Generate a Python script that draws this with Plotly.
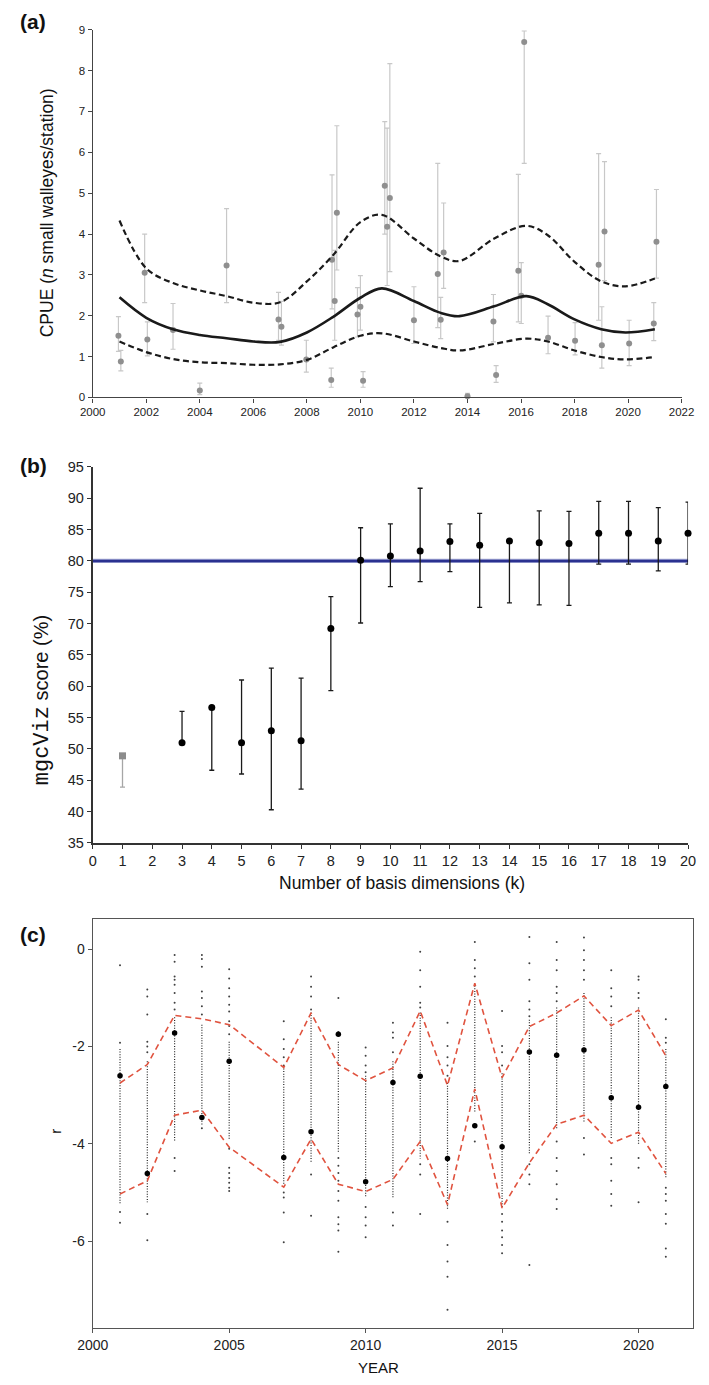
import plotly.graph_objects as go

W, H = 709, 1385
FONT = "Liberation Sans, Arial, sans-serif"

# ---------------- Panel (a): CPUE by year ----------------
a_year = [2000.96, 2001.05, 2001.94, 2002.04, 2003.0, 2004.0, 2005.0, 2006.94, 2007.05, 2007.98,
          2008.91, 2008.94, 2009.04, 2009.12, 2009.89, 2010.0, 2010.1, 2010.91, 2011.0, 2011.1,
          2012.0, 2012.89, 2013.0, 2013.11, 2014.0, 2014.97, 2015.07, 2015.9, 2016.01, 2016.12,
          2017.01, 2018.02, 2018.9, 2019.02, 2019.12, 2020.04, 2020.96, 2021.06]
a_cpue = [1.51, 0.88, 3.05, 1.42, 1.65, 0.17, 3.23, 1.91, 1.73, 0.93,
          0.43, 3.37, 2.36, 4.52, 2.03, 2.22, 0.41, 5.18, 4.18, 4.88,
          1.89, 3.02, 1.90, 3.55, 0.03, 1.86, 0.55, 3.10, 2.49, 8.70,
          1.46, 1.39, 3.25, 1.28, 4.06, 1.32, 1.81, 3.81]
a_hi = [1.98, 1.15, 4.00, 1.85, 2.30, 0.35, 4.62, 2.57, 2.35, 1.40,
        0.72, 5.45, 3.60, 6.65, 2.69, 2.98, 0.63, 6.75, 6.59, 8.17,
        2.71, 5.73, 2.45, 4.76, 0.10, 2.52, 0.78, 5.46, 3.30, 8.97,
        1.99, 1.83, 5.97, 2.22, 5.77, 1.89, 2.32, 5.09]
a_lo = [1.13, 0.65, 2.32, 1.02, 1.18, 0.07, 2.32, 1.40, 1.28, 0.62,
        0.25, 2.17, 1.40, 3.12, 1.48, 1.65, 0.25, 4.00, 2.74, 3.08,
        1.32, 1.71, 1.44, 2.67, 0.00, 1.36, 0.37, 1.85, 1.81, 5.73,
        1.07, 1.04, 1.89, 0.72, 2.86, 0.78, 1.39, 2.92]

fit_year = [2001, 2002, 2003, 2004, 2005, 2006, 2007, 2008, 2009, 2010, 2010.8,
            2012, 2013, 2013.7, 2015, 2016.2, 2017, 2018, 2019, 2019.9, 2021]
fit_mid = [2.45, 1.95, 1.67, 1.53, 1.45, 1.37, 1.36, 1.59, 1.98, 2.44, 2.67,
           2.36, 2.07, 1.99, 2.23, 2.48, 2.28, 1.91, 1.67, 1.59, 1.67]
fit_up = [4.33, 3.16, 2.80, 2.62, 2.48, 2.32, 2.33, 2.84, 3.50, 4.29, 4.47,
          3.89, 3.45, 3.34, 3.89, 4.20, 3.97, 3.32, 2.84, 2.72, 2.91]
fit_low = [1.37, 1.11, 0.94, 0.86, 0.84, 0.80, 0.81, 0.92, 1.23, 1.51, 1.57,
           1.37, 1.21, 1.15, 1.31, 1.44, 1.37, 1.15, 0.99, 0.93, 0.99]

# ---------------- Panel (b): mgcViz score vs k ----------------
b_k = [1, 3, 4, 5, 6, 7, 8, 9, 10, 11, 12, 13, 14, 15, 16, 17, 18, 19, 20]
b_score = [48.9, 51.0, 56.6, 51.0, 52.9, 51.3, 69.2, 80.1, 80.8, 81.6,
           83.1, 82.5, 83.2, 82.9, 82.8, 84.4, 84.4, 83.2, 84.4]
b_hi = [48.9, 56.0, 56.6, 61.0, 62.9, 61.3, 74.3, 85.3, 85.9, 91.6,
        85.9, 87.6, 83.2, 88.0, 87.9, 89.5, 89.5, 88.5, 89.4]
b_lo = [43.9, 51.0, 46.6, 46.0, 40.3, 43.6, 59.3, 70.1, 75.9, 76.7,
        78.3, 72.6, 73.3, 73.0, 72.9, 79.5, 79.5, 78.4, 79.5]
b_threshold = 80

# ---------------- Panel (c): r by year ----------------
c_year = [2001, 2002, 2003, 2004, 2005, 2007, 2008, 2009, 2010, 2011,
          2012, 2013, 2014, 2015, 2016, 2017, 2018, 2019, 2020, 2021]
c_mean = [-2.60, -4.61, -1.72, -3.46, -2.30, -4.28, -3.75, -1.75, -4.78, -2.74,
          -2.61, -4.30, -3.63, -4.06, -2.11, -2.18, -2.07, -3.05, -3.25, -2.82]
c_upper = [-2.75, -2.37, -1.36, -1.43, -1.55, -2.43, -1.31, -2.37, -2.70, -2.44,
           -1.27, -2.80, -0.70, -2.64, -1.59, -1.31, -0.96, -1.57, -1.25, -2.19]
c_lower = [-5.03, -4.76, -3.41, -3.31, -4.07, -4.89, -3.90, -4.83, -4.98, -4.73,
           -3.95, -5.25, -2.87, -5.32, -4.39, -3.60, -3.41, -3.99, -3.76, -4.61]
c_dense_top = [-2.05, -2.30, -1.40, -1.55, -1.90, -2.45, -1.30, -1.90, -2.60, -2.30,
               -1.30, -2.75, -0.75, -2.55, -1.45, -1.20, -0.90, -1.40, -1.20, -2.05]
c_dense_bottom = [-5.25, -5.20, -3.95, -3.60, -3.90, -4.85, -4.40, -4.20, -5.10, -5.10,
                  -4.30, -5.35, -3.35, -5.30, -4.20, -3.70, -3.55, -3.90, -4.00, -4.70]
c_sparse = [
    [-0.33, -1.92, -5.40, -5.62],
    [-0.83, -0.97, -1.34, -1.90, -2.00, -2.12, -5.44, -5.98],
    [-0.12, -0.26, -0.56, -0.63, -0.73, -0.90, -1.10, -1.24, -4.29, -4.56],
    [-0.12, -0.20, -0.36, -0.87, -1.00, -1.17, -1.34, -3.68],
    [-0.41, -0.60, -0.80, -0.97, -1.14, -1.28, -1.48, -1.58, -1.75, -4.10, -4.49, -4.60, -4.70, -4.80, -4.90, -4.97],
    [-1.48, -1.85, -2.05, -2.22, -2.39, -5.00, -5.10, -5.41, -6.02],
    [-0.56, -0.77, -0.97, -1.24, -4.63, -5.48],
    [-1.00, -1.70, -4.29, -4.45, -4.60, -4.76, -4.97, -5.17, -5.51, -5.65, -5.78, -6.22],
    [-2.02, -2.19, -2.39, -2.53, -5.30, -5.51, -5.68, -5.92],
    [-1.51, -1.71, -1.82, -2.12, -5.41, -5.68],
    [-0.05, -0.43, -0.77, -1.10, -1.20, -4.42, -4.63, -5.44],
    [-1.51, -1.99, -2.22, -2.39, -2.60, -5.60, -6.08, -6.42, -6.73, -7.41],
    [0.15, -0.22, -0.39, -0.56, -3.60, -3.95],
    [-1.27, -1.99, -2.12, -2.39, -5.44, -5.60, -5.78, -5.92, -6.08, -6.25],
    [0.25, -0.29, -0.63, -1.07, -1.24, -1.38, -4.42, -4.63, -4.83, -6.49],
    [0.15, -0.22, -0.43, -0.77, -0.90, -1.07, -3.95, -4.29, -4.56, -4.83, -5.14, -5.34],
    [0.24, -0.02, -0.22, -0.43, -0.63, -3.88, -4.22],
    [-0.43, -0.80, -0.97, -1.17, -4.29, -4.42, -4.76, -5.03, -5.27],
    [-0.56, -0.63, -0.90, -1.00, -4.29, -4.49, -5.20],
    [-1.44, -1.82, -1.92, -4.90, -5.03, -5.17, -5.44, -5.64, -6.15, -6.32],
]
c_yticks = [0, -2, -4, -6]


def px(x):
    return x / W


def py(y):
    return 1 - y / H


fig = go.Figure()

# ---- (a) ----
fig.add_trace(go.Scatter(
    x=a_year, y=a_cpue, mode="markers", xaxis="x", yaxis="y", cliponaxis=False,
    marker=dict(color="#8f8f8f", size=6),
    error_y=dict(type="data", symmetric=False,
                 array=[h - v for h, v in zip(a_hi, a_cpue)],
                 arrayminus=[v - l for v, l in zip(a_cpue, a_lo)],
                 color="#c8c8c8", thickness=1.2, width=2.5),
    showlegend=False))
for yy, dash, wd in [(fit_up, "6px,3.5px", 2.2), (fit_low, "6px,3.5px", 2.2), (fit_mid, "solid", 2.6)]:
    fig.add_trace(go.Scatter(
        x=fit_year, y=yy, mode="lines", xaxis="x", yaxis="y",
        line=dict(color="#1a1a1a", width=wd, dash=dash, shape="spline", smoothing=1.0),
        showlegend=False))

# ---- (b) ----
fig.add_shape(type="line", xref="x2 domain", x0=0, x1=1, yref="y2", y0=b_threshold, y1=b_threshold,
              line=dict(color="#a3a8d4", width=4.2), layer="below")
fig.add_shape(type="line", xref="x2 domain", x0=0, x1=1, yref="y2", y0=b_threshold, y1=b_threshold,
              line=dict(color="#2b3190", width=2.4), layer="below")
fig.add_trace(go.Scatter(
    x=b_k[:1], y=b_score[:1], mode="markers", xaxis="x2", yaxis="y2", cliponaxis=False,
    marker=dict(color="#8c8c8c", size=7, symbol="square"),
    error_y=dict(type="data", symmetric=False,
                 array=[h - v for h, v in zip(b_hi[:1], b_score[:1])],
                 arrayminus=[v - l for v, l in zip(b_score[:1], b_lo[:1])],
                 color="#a6a6a6", thickness=1.3, width=2.5),
    showlegend=False))
fig.add_trace(go.Scatter(
    x=b_k[1:], y=b_score[1:], mode="markers", xaxis="x2", yaxis="y2", cliponaxis=False,
    marker=dict(color="#000000", size=7),
    error_y=dict(type="data", symmetric=False,
                 array=[h - v for h, v in zip(b_hi[1:], b_score[1:])],
                 arrayminus=[v - l for v, l in zip(b_score[1:], b_lo[1:])],
                 color="#1a1a1a", thickness=1.3, width=2.5),
    showlegend=False))

# ---- (c) ----
band_x, band_y = [], []
for yr, t, b in zip(c_year, c_dense_top, c_dense_bottom):
    band_x += [yr, yr, None]
    band_y += [t, b, None]
fig.add_trace(go.Scatter(
    x=band_x, y=band_y, mode="lines", xaxis="x3", yaxis="y3",
    line=dict(color="rgba(0,0,0,0.85)", width=1.2, dash="1px,1.6px"), showlegend=False))
sp_x = [yr for yr, vals in zip(c_year, c_sparse) for _ in vals]
sp_y = [v for vals in c_sparse for v in vals]
fig.add_trace(go.Scatter(
    x=sp_x, y=sp_y, mode="markers", xaxis="x3", yaxis="y3",
    marker=dict(color="rgba(0,0,0,0.75)", size=2), showlegend=False))
for yy in (c_upper, c_lower):
    fig.add_trace(go.Scatter(
        x=c_year, y=yy, mode="lines", xaxis="x3", yaxis="y3",
        line=dict(color="#e0533f", width=1.6, dash="6px,4px"), showlegend=False))
fig.add_trace(go.Scatter(
    x=c_year, y=c_mean, mode="markers", xaxis="x3", yaxis="y3",
    marker=dict(color="#000000", size=5.5), showlegend=False))

axis_common = dict(showgrid=False, zeroline=False, showline=True, ticks="outside",
                   ticklen=4, tickwidth=1)

fig.update_layout(
    width=W, height=H,
    margin=dict(l=0, r=0, t=0, b=0),
    paper_bgcolor="white", plot_bgcolor="white",
    font=dict(family=FONT, color="#222"),
    xaxis=dict(domain=[px(80), px(694)], range=[2000, 2022], tick0=2000, dtick=2, anchor="y",
               linecolor="#444", linewidth=1.3, tickcolor="#444",
               tickfont=dict(size=11.5, color="#222"), **axis_common),
    yaxis=dict(domain=[py(394), py(22)], range=[0, 9], dtick=1, anchor="x",
               linecolor="#444", linewidth=1.3, tickcolor="#444",
               tickfont=dict(size=11.5, color="#222"), **axis_common),
    xaxis2=dict(domain=[px(80), px(700.7)], range=[0, 20], dtick=1, anchor="y2",
                linecolor="#333", linewidth=1.8, tickcolor="#333",
                tickfont=dict(size=14.5, color="#222"), **axis_common),
    yaxis2=dict(domain=[py(844.7), py(464.3)], range=[35, 95], dtick=5, anchor="x2",
                linecolor="#333", linewidth=1.8, tickcolor="#333",
                tickfont=dict(size=14.5, color="#222"), **axis_common),
    xaxis3=dict(domain=[px(80), px(706)], range=[2000, 2022],
                tickvals=[2000, 2005, 2010, 2015, 2020], anchor="y3", mirror=True,
                linecolor="#555", linewidth=1.3, tickcolor="#555",
                tickfont=dict(size=14, color="#222"), **axis_common),
    yaxis3=dict(domain=[py(1335.7), py(921.7)], range=[-7.79, 0.62],
                tickvals=c_yticks, ticktext=[str(v) for v in c_yticks], anchor="x3", mirror=True,
                linecolor="#555", linewidth=1.3, tickcolor="#555",
                tickfont=dict(size=14, color="#222"), **axis_common),
)

ann = []


def add_text(text, x, y, size, angle=0, bold=False, xanchor="center"):
    ann.append(dict(text=f"<b>{text}</b>" if bold else text, x=px(x), y=py(y),
                    xref="paper", yref="paper", showarrow=False, textangle=angle,
                    xanchor=xanchor, yanchor="middle",
                    font=dict(family=FONT, size=size, color="#111")))


add_text("(a)", 2, 14, 21, bold=True, xanchor="left")
add_text("(b)", 2, 463, 21, bold=True, xanchor="left")
add_text("(c)", 2, 937, 21, bold=True, xanchor="left")
add_text("CPUE (<i>n</i> small walleyes/station)", 32, 207, 17.5, angle=-90)
add_text('<span style="font-family:Liberation Mono, Courier New, monospace;font-size:22px">mgcViz</span> score (%)',
         28.5, 700, 20, angle=-90)
add_text("Number of basis dimensions (k)", 402, 885, 17.5)
add_text("r", 41.7, 1136, 15, angle=-90)
add_text("YEAR", 378, 1375, 15)

fig.update_layout(annotations=ann)
fig.write_html("out.html")
